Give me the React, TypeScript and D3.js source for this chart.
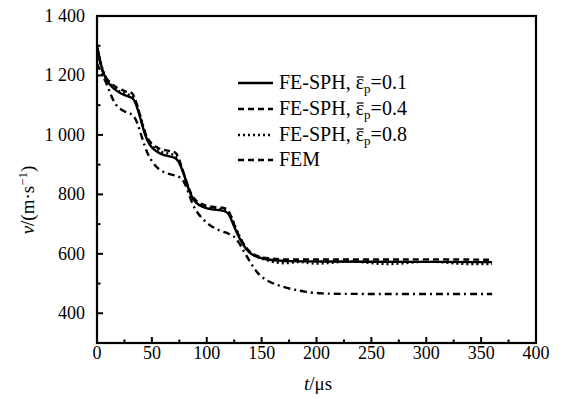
import * as d3 from 'd3';
import { useEffect, useRef } from 'react';

// time (us) and velocity (m/s)
const sph01T = [0, 2, 5, 10, 15, 22, 28, 33, 36, 40, 44, 48, 52, 58, 65, 72, 76, 80, 84, 88, 93, 100, 108, 116, 120, 124, 128, 133, 138, 145, 152, 160, 175, 200, 250, 300, 360];
const sph01V = [1300, 1265, 1210, 1175, 1155, 1138, 1130, 1125, 1100, 1050, 995, 965, 950, 935, 928, 925, 900, 860, 810, 780, 762, 752, 748, 745, 738, 700, 665, 630, 605, 590, 583, 578, 575, 574, 573, 573, 572];

const sph04T = [0, 3, 6, 12, 18, 24, 28, 32, 35, 39, 43, 48, 55, 62, 68, 73, 76, 80, 84, 88, 93, 100, 108, 116, 120, 124, 128, 133, 138, 145, 155, 170, 200, 250, 300, 360];
const sph04V = [1290, 1240, 1200, 1175, 1158, 1150, 1142, 1145, 1120, 1070, 1010, 975, 955, 948, 945, 940, 905, 860, 815, 785, 770, 760, 757, 755, 748, 708, 670, 635, 610, 592, 585, 580, 582, 580, 582, 580];

const sph08T = [0, 3, 6, 12, 18, 24, 30, 34, 37, 41, 45, 50, 56, 63, 70, 75, 79, 83, 87, 92, 100, 108, 116, 121, 125, 129, 134, 139, 146, 155, 165, 175, 185, 195, 210, 225, 240, 255, 270, 285, 300, 315, 330, 345, 360];
const sph08V = [1295, 1250, 1205, 1170, 1150, 1140, 1135, 1125, 1095, 1045, 990, 960, 945, 938, 935, 915, 870, 820, 785, 765, 755, 752, 750, 740, 700, 665, 628, 603, 588, 578, 568, 568, 575, 566, 568, 575, 574, 566, 565, 570, 575, 572, 566, 565, 566];

const femT = [0, 3, 8, 13, 17, 22, 27, 33, 37, 41, 46, 51, 56, 62, 68, 74, 79, 83, 87, 92, 98, 105, 112, 120, 125, 130, 135, 140, 145, 151, 160, 170, 180, 190, 203, 230, 280, 330, 360];
const femV = [1240, 1215, 1180, 1130, 1100, 1085, 1075, 1070, 1040, 990, 935, 905, 885, 872, 866, 862, 848, 810, 765, 735, 710, 690, 678, 668, 660, 635, 600, 570, 540, 518, 500, 488, 479, 472, 466, 465, 465, 465, 465];

const xTicks = [0, 50, 100, 150, 200, 250, 300, 350, 400];
const yTicks = [400, 600, 800, 1000, 1200, 1400];
const yTickLabels = ['400', '600', '800', '1 000', '1 200', '1 400'];

const W = 570;
const H = 399;

const App = () => {
    const svgRef = useRef<SVGSVGElement>(null);

    useEffect(() => {
        const svg = d3.select(svgRef.current);
        svg.selectAll('*').remove();

        const left = 97, right = 536, top = 16, bottom = 343;

        const x = d3.scaleLinear().domain([0, 400]).range([left, right]);
        const y = d3.scaleLinear().domain([300, 1400]).range([bottom, top]);

        // ticks (inside)
        const minorX = d3.range(25, 400, 50);
        svg.append('g').selectAll('line').data(xTicks.slice(1, -1)).enter().append('line')
            .attr('x1', (d) => x(d)).attr('x2', (d) => x(d))
            .attr('y1', bottom).attr('y2', bottom - 6)
            .attr('stroke', '#000').attr('stroke-width', 2);
        svg.append('g').selectAll('line').data(minorX).enter().append('line')
            .attr('x1', (d) => x(d)).attr('x2', (d) => x(d))
            .attr('y1', bottom).attr('y2', bottom - 3.5)
            .attr('stroke', '#000').attr('stroke-width', 2);
        const minorY = d3.range(500, 1400, 200);
        svg.append('g').selectAll('line').data(yTicks.slice(0, -1)).enter().append('line')
            .attr('x1', left).attr('x2', left + 6)
            .attr('y1', (d) => y(d)).attr('y2', (d) => y(d))
            .attr('stroke', '#000').attr('stroke-width', 2);
        svg.append('g').selectAll('line').data(minorY).enter().append('line')
            .attr('x1', left).attr('x2', left + 3.5)
            .attr('y1', (d) => y(d)).attr('y2', (d) => y(d))
            .attr('stroke', '#000').attr('stroke-width', 2);

        // tick labels
        svg.append('g').selectAll('text').data(xTicks).enter().append('text')
            .attr('x', (d) => x(d)).attr('y', bottom + 16)
            .attr('text-anchor', 'middle')
            .attr('font-size', 18)
            .text((d) => String(d));
        svg.append('g').selectAll('text').data(yTicks).enter().append('text')
            .attr('x', left - 12).attr('y', (d) => y(d) + 6)
            .attr('text-anchor', 'end')
            .attr('font-size', 18)
            .text((d, i) => yTickLabels[i]);

        // axis titles
        const xt = svg.append('text')
            .attr('x', 318).attr('y', 390)
            .attr('text-anchor', 'middle')
            .attr('font-size', 19);
        xt.append('tspan').attr('font-style', 'italic').text('t');
        xt.append('tspan').text('/μs');

        const yt = svg.append('text')
            .attr('transform', 'translate(34,200) rotate(-90)')
            .attr('text-anchor', 'middle')
            .attr('font-size', 19);
        yt.append('tspan').attr('font-style', 'italic').text('v');
        yt.append('tspan').text('/(m·s');
        yt.append('tspan').attr('dy', -7).attr('font-size', 13).text('−1');
        yt.append('tspan').attr('dy', 7).text(')');

        // curves
        const series = [
            { t: femT, v: femV, dash: '7,4,2,4' },
            { t: sph08T, v: sph08V, dash: '2,3' },
            { t: sph04T, v: sph04V, dash: '6,4' },
            { t: sph01T, v: sph01V, dash: null },
        ];
        const line = d3.line<[number, number]>()
            .x((d) => x(d[0]))
            .y((d) => y(d[1]))
            .curve(d3.curveBasis);
        series.forEach((s) => {
            const pts = s.t.map((t, i) => [t, s.v[i]] as [number, number]);
            svg.append('path')
                .attr('d', line(pts) || '')
                .attr('fill', 'none')
                .attr('stroke', '#000')
                .attr('stroke-width', 2.4)
                .attr('stroke-dasharray', s.dash);
        });

        // frame
        svg.append('rect')
            .attr('x', left).attr('y', top)
            .attr('width', right - left).attr('height', bottom - top)
            .attr('fill', 'none').attr('stroke', '#000').attr('stroke-width', 2.2);

        // legend
        const legend = [
            { label: '0.1', dash: null },
            { label: '0.4', dash: '6,4' },
            { label: '0.8', dash: '2,3' },
            { label: null, dash: '6,4' },
        ];
        const rowY = [83, 109, 135, 160];
        legend.forEach((l, i) => {
            const g = svg.append('g');
            g.append('line')
                .attr('x1', 238).attr('x2', 273)
                .attr('y1', rowY[i]).attr('y2', rowY[i])
                .attr('stroke', '#000').attr('stroke-width', 2.4)
                .attr('stroke-dasharray', l.dash);
            const t = g.append('text')
                .attr('x', 279).attr('y', rowY[i] + 6)
                .attr('font-size', 20);
            if (l.label === null) {
                t.text('FEM');
            } else {
                const head = 'FE-SPH, ';
                t.append('tspan').text(head);
                t.append('tspan').text('ε');
                t.append('tspan').attr('dy', 4).attr('font-size', 13).text('p');
                t.append('tspan').attr('dy', -4).text('=' + l.label);
                // bar over epsilon
                const node = t.node() as SVGTextElement;
                const ext = node.getExtentOfChar(head.length);
                g.append('line')
                    .attr('x1', ext.x + 1).attr('x2', ext.x + ext.width - 0.5)
                    .attr('y1', rowY[i] - 6).attr('y2', rowY[i] - 6)
                    .attr('stroke', '#000').attr('stroke-width', 1.2);
            }
        });
    }, []);

    return (
        <div style={{ position: 'absolute', left: 0, top: 0, width: W, height: H, background: '#fff' }}>
            <svg ref={svgRef} width={W} height={H}
                style={{ fontFamily: "'Liberation Serif', 'Times New Roman', Times, 'DejaVu Serif', serif" }}></svg>
        </div>
    );
};

export default App;
